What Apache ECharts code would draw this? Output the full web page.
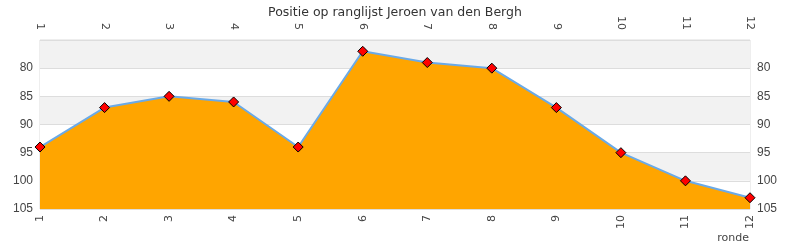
<!DOCTYPE html>
<html><head><meta charset="utf-8">
<script src="https://cdn.jsdelivr.net/npm/echarts@6/dist/echarts.min.js"></script>
<style>html,body{margin:0;padding:0;background:#fff}#c{width:790px;height:250px}</style>
</head><body><div id="c"></div>
<script>
const rondes = ['1','2','3','4','5','6','7','8','9','10','11','12'];
const posities = [94, 87, 85, 86, 94, 77, 79, 80, 87, 95, 100, 103];
const titel = 'Positie op ranglijst Jeroen van den Bergh';
const asNaam = 'ronde';

const font = 'DejaVu Sans';
const xBase = {
  type: 'category', data: rondes, boundaryGap: false,
  axisLine: {show: false}, axisTick: {show: false},
  axisLabel: {rotate: 90, color: '#444', fontFamily: font, fontSize: 11, margin: 6},
  splitLine: {show: false}
};
const yBase = {
  type: 'value', min: 75, max: 105, interval: 5, inverse: true,
  axisLine: {show: false}, axisTick: {show: false},
  axisLabel: {color: '#444', fontFamily: 'Liberation Sans', fontSize: 12, showMinLabel: false, margin: 7},
  splitLine: {show: true, lineStyle: {color: '#ddd'}},
  splitArea: {show: true, areaStyle: {color: ['#f2f2f2', '#ffffff']}}
};
const chart = echarts.init(document.getElementById('c'), null, {renderer: 'canvas'});
chart.setOption({
  animation: false,
  title: {text: titel, left: 'center', top: 1,
    textStyle: {fontFamily: font, fontSize: 12.5, fontWeight: 'normal', color: '#333'}},
  grid: {left: 40, right: 40, top: 40, bottom: 41, show: true, borderColor: '#ddd', borderWidth: 1},
  xAxis: [Object.assign({}, xBase, {position: 'bottom'}),
          Object.assign({}, xBase, {position: 'top', axisLabel: Object.assign({}, xBase.axisLabel, {margin: 10})})],
  yAxis: [Object.assign({}, yBase, {position: 'left'}),
          Object.assign({}, yBase, {position: 'right', splitArea: {show: false}, splitLine: {show: false}})],
  graphic: [{type: 'text', right: 41, bottom: 6,
    style: {text: asNaam, fill: '#444', font: '11px "DejaVu Sans"'}}],
  series: [{
    type: 'line', data: posities, xAxisIndex: 0, yAxisIndex: 0,
    lineStyle: {color: '#6aaae8', width: 2},
    areaStyle: {color: '#ffa500', opacity: 1, origin: 'end'},
    symbol: 'diamond', symbolSize: 10,
    itemStyle: {color: '#ff0000', borderColor: '#000', borderWidth: 1}
  }]
});
</script></body></html>
